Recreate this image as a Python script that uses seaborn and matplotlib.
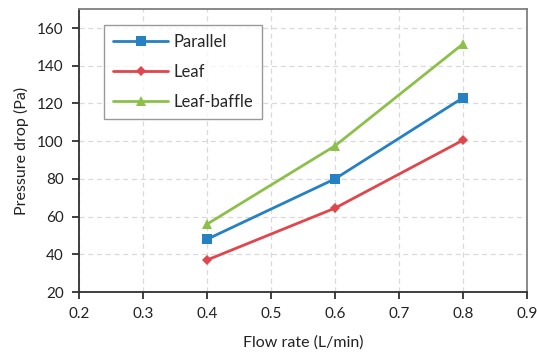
import pandas as pd
import numpy as np
import matplotlib
matplotlib.use("Agg")
import matplotlib.pyplot as plt
import seaborn as sns

# ── Data ──────────────────────────────────────────────────────────────────
flow_rate = [0.4, 0.6, 0.8]
parallel = [48, 80, 123]
leaf = [37, 64.5, 100.5]
leaf_baffle = [56, 97.5, 151.5]

series_names = ["Parallel", "Leaf", "Leaf-baffle"]
colors = ["#2581C4", "#E0464B", "#8DC04A"]
markers = ["s", "D", "^"]

df = pd.DataFrame({
    "flow": flow_rate * 3,
    "dp": parallel + leaf + leaf_baffle,
    "design": np.repeat(series_names, len(flow_rate)),
})

# ── Plot ──────────────────────────────────────────────────────────────────
sns.set_style("white")
plt.rcParams["font.family"] = ["Lato", "DejaVu Sans"]

fig = plt.figure(figsize=(5.37, 3.52), dpi=100)
ax = fig.add_axes([0.147, 0.170, 0.834, 0.804])

sns.lineplot(data=df, x="flow", y="dp", hue="design", style="design",
             hue_order=series_names, style_order=series_names,
             palette=colors, markers=markers, dashes=False,
             markersize=7, linewidth=2, markeredgewidth=0, ax=ax)

# diamond looks smaller than the others
for line in ax.get_lines():
    if line.get_marker() == "D":
        line.set_markersize(5.5)

ax.set_xlim(0.2, 0.9)
ax.set_ylim(20, 170)
ax.set_xticks(np.arange(0.2, 0.91, 0.1))
ax.set_xticklabels([f"{v:.1f}" for v in np.arange(0.2, 0.91, 0.1)])
ax.set_yticks(np.arange(20, 161, 20))
ax.grid(True, color="#d9d9d9", linestyle=(0, (4, 3)), linewidth=0.9)
ax.set_axisbelow(True)

for side in ["left", "bottom"]:
    ax.spines[side].set_color("#303030")
    ax.spines[side].set_linewidth(1.3)
for side in ["top", "right"]:
    ax.spines[side].set_color("#808080")
    ax.spines[side].set_linewidth(1.3)

ax.tick_params(axis="both", direction="out", length=5, width=1.3,
               color="#303030", labelsize=11, labelcolor="#222222",
               left=True, bottom=True, pad=6)

ax.set_xlabel("Flow rate (L/min)", fontsize=11.5, color="#222222", labelpad=10)
ax.set_ylabel("Pressure drop (Pa)", fontsize=11.5, color="#222222", labelpad=6)

leg = ax.legend(loc="upper left", bbox_to_anchor=(0.056, 0.945), fontsize=12,
                frameon=True, fancybox=False, edgecolor="#808080",
                borderpad=0.55, labelspacing=0.85, handlelength=3.3,
                handletextpad=0.3, borderaxespad=0)
leg.get_frame().set_linewidth(1.0)
leg.set_title(None)
for h in leg.legend_handles:
    if h.get_marker() == "D":
        h.set_markersize(5.5)

fig.savefig("out.png", dpi=100)
